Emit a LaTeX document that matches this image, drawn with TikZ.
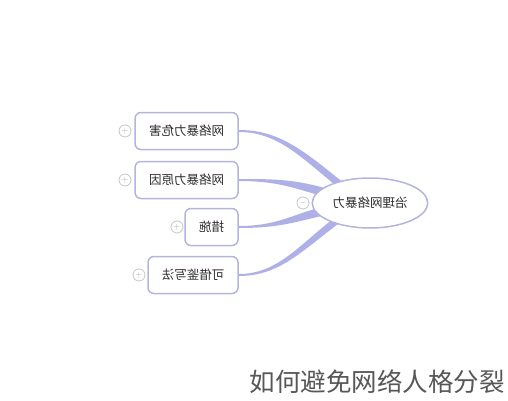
\documentclass[tikz,border=0pt]{standalone}
\usepackage{fontspec}
\usepackage{graphicx}
\setmainfont{Noto Sans CJK SC}
\usetikzlibrary{shapes.geometric,backgrounds}
\definecolor{lavline}{RGB}{180,180,224}
\definecolor{lavbranch}{RGB}{176,176,232}
\definecolor{inktext}{RGB}{45,45,45}
\newcommand{\mirror}[1]{\reflectbox{#1}}
\begin{document}
\begin{tikzpicture}[
        x=1pt, y=1pt,
        topic/.style={rectangle, draw=lavline, line width=1.5pt, fill=white, minimum height=37pt, rounded corners=6pt, text=inktext, font=\fontsize{12.5}{14}\selectfont},
        root/.style={ellipse, draw=lavline, line width=1.5pt, fill=white, minimum width=110pt, minimum height=50pt, text=inktext, font=\fontsize{12.5}{14}\selectfont},
        fold/.style={circle, draw=gray!45, line width=0.8pt, fill=white, minimum size=12pt, inner sep=0pt, text=gray!65, font=\fontsize{9}{9}\selectfont},
        branch/.style={fill=lavbranch}
    ]
        \useasboundingbox (0,0) rectangle (508,400);
        \node[root] (center) at (370,197) {\mirror{治理网络暴力}};
        \node[fold] (fcenter) at (303,197) {$-$};

        \node[topic, minimum width=103pt] (harm) at (186.5,269) {\mirror{网络暴力危害}};
        \node[topic, minimum width=103pt] (cause) at (186.5,220) {\mirror{网络暴力原因}};
        \node[topic, minimum width=53pt] (measure) at (211.5,173) {\mirror{措施}};
        \node[topic, minimum width=90pt] (lesson) at (193,125) {\mirror{可借鉴写法}};

        \node[fold] (fharm) at (125,269) {$+$};
        \node[fold] (fcause) at (125,220) {$+$};
        \node[fold] (fmeasure) at (177,173) {$+$};
        \node[fold] (flesson) at (139,125) {$+$};

        \coordinate (t1) at (342,214);
        \coordinate (t2) at (330,206);
        \coordinate (t3) at (328,190);
        \coordinate (t4) at (340,182);

        % tapered branches behind the nodes
        \begin{scope}[on background layer]
            \foreach \src/\dst/\cx/\cy in {harm/t1/-40/32, cause/t2/-35/10, measure/t3/-35/-8, lesson/t4/-40/-30} {
                \fill[branch] ([yshift=1pt]\src.east) .. controls +(40,0) and +(\cx,\cy) .. ([yshift=4.5pt]\dst)
                    -- ([yshift=-4.5pt]\dst) .. controls +(\cx,\cy) and +(40,0) .. ([yshift=-1pt]\src.east) -- cycle;
            }
        \end{scope}

        \node[text=inktext!80, font=\fontsize{25.5}{27}\selectfont] (mark) at (377,18) {如何避免网络人格分裂};
    \end{tikzpicture}
\end{document}
